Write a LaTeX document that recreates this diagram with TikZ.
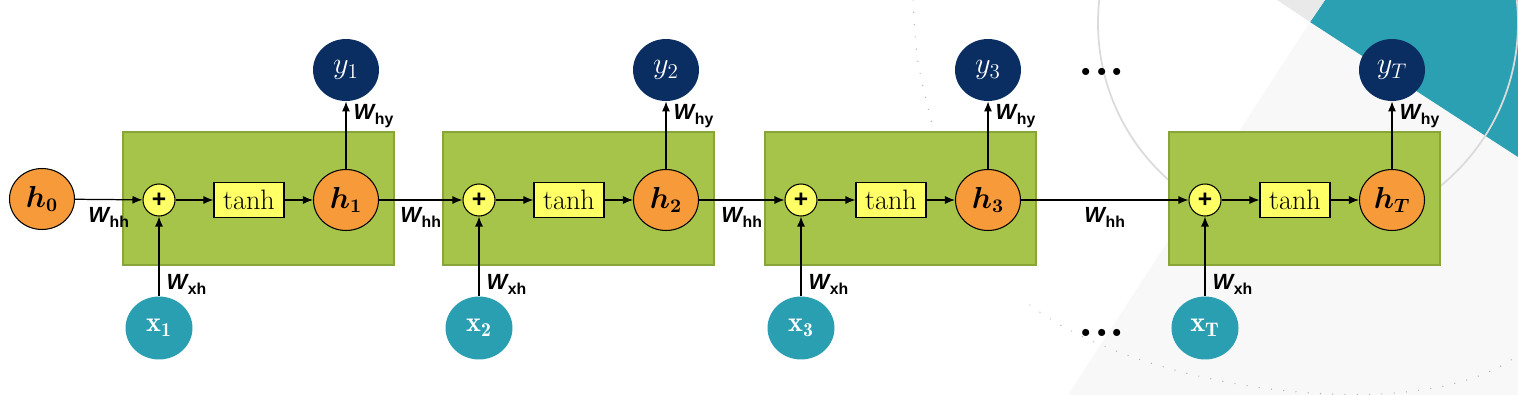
\documentclass[tikz,border=0pt]{standalone}
\usepackage{fontspec}
\usepackage{bm}
\usetikzlibrary{shapes.geometric,arrows.meta}
\newfontfamily\arialfont{Liberation Sans}
\newcommand{\wsub}[1]{{\arialfont\bfseries\itshape W}\kern0.3pt\raisebox{-0.55ex}{\arialfont\bfseries\fontsize{9}{9}\selectfont #1}}
\definecolor{hOrange}{HTML}{F69A3A}
\definecolor{yNavy}{HTML}{0A2D62}
\definecolor{xTeal}{HTML}{2A9FB1}
\definecolor{cellGreen}{HTML}{A6C44A}
\definecolor{cellEdge}{HTML}{88A53A}
\definecolor{cellYellow}{HTML}{FFFF66}
\definecolor{bgTeal}{HTML}{2AA0B2}
\definecolor{bgLight}{HTML}{F8F8F8}
\definecolor{bgGrey}{HTML}{E9E9E9}
\tikzset{
  hnode/.style={ellipse, draw, line width=0.6pt, fill=hOrange, minimum width=1.3cm, minimum height=1.22cm, inner sep=0pt, font=\fontsize{16}{16}\selectfont},
  ynode/.style={ellipse, fill=yNavy, text=white, minimum width=1.32cm, minimum height=1.24cm, inner sep=0pt, font=\fontsize{17}{17}\selectfont},
  xnode/.style={ellipse, fill=xTeal, text=white, minimum width=1.34cm, minimum height=1.26cm, inner sep=0pt, font=\fontsize{16}{16}\selectfont},
  plusnode/.style={circle, draw, line width=0.6pt, fill=cellYellow, minimum size=0.64cm, inner sep=0pt, font=\arialfont\bfseries\fontsize{14}{14}\selectfont},
  tanhbox/.style={rectangle, draw, line width=0.6pt, fill=cellYellow, minimum width=1.4cm, minimum height=0.7cm, inner sep=0pt, font=\fontsize{16}{16}\selectfont},
  cellbox/.style={draw=cellEdge, fill=cellGreen, line width=0.8pt},
  wire/.style={-{Latex[length=2mm,width=1.6mm]}, line width=0.7pt},
  wlab/.style={font=\fontsize{12.5}{13}\selectfont, inner sep=1pt},
  dotsnode/.style={font=\bfseries\fontsize{28}{28}\selectfont, inner sep=0pt},
}
\begin{document}
\begin{tikzpicture}[x=0.02cm, y=-0.02cm]
	\useasboundingbox (0,0) rectangle (1518,395);
	% slide background
	\begin{scope}
	\clip (0,0) rectangle (1518,395);
	\fill [bgLight] (1068,395) -- (1310,22) -- (1518,157) -- (1518,395) -- cycle;
	\fill [bgTeal] (1310,22) -- (1325,0) -- (1518,0) -- (1518,157) -- cycle;
	\fill [bgGrey] (1277,0) -- (1325,0) -- (1310,22) -- cycle;
	\draw [black!14, line width=1pt] (1308,23) circle [radius=210];
	\draw [black!30, line width=0.8pt, line cap=round, dash pattern=on 0pt off 7pt] (1030,305) .. controls (1140,390) and (1420,430) .. (1518,355);
	\draw [black!30, line width=0.8pt, line cap=round, dash pattern=on 0pt off 7pt] (913,0) .. controls (916,60) .. (936,140);
	\end{scope}
	% cells
	\foreach \i/\c in {1/123, 2/443, 3/765, T/1169}{
	\draw [cellbox] (\c,132) rectangle ++(271,133);
	\node [plusnode] (p\i) at (\c+36,200) {+};
	\node [tanhbox] (t\i) at (\c+126,200) {tanh};
	\node [hnode] (h\i) at (\c+223,200) {$\bm{h}_{\bm{\i}}$};
	\node [ynode] (y\i) at (\c+223,70) {$y_{\i}$};
	\node [xnode] (x\i) at (\c+36,328) {$\mathbf{x}_{\mathbf{\i}}$};
	\draw [wire] (p\i) -- (t\i);
	\draw [wire] (t\i) -- (h\i);
	\draw [wire] (x\i) -- node [wlab, pos=0.15, right=3pt] {\wsub{xh}} (p\i);
	\draw [wire] (h\i) -- node [wlab, pos=0.78, right=3pt] {\wsub{hy}} (y\i);
	}
	\node [hnode] (h0) at (42,199) {$\bm{h}_{\bm{0}}$};
	\foreach \a/\b in {0/1, 1/2, 2/3, 3/T}{
	\draw [wire] (h\a) -- node [wlab, midway, below=3pt] {\wsub{hh}} (p\b);
	}
	\node [dotsnode] (dotsup) at (1102,72) {...};
	\node [dotsnode] (dotsdown) at (1102,333) {...};
\end{tikzpicture}
\end{document}
